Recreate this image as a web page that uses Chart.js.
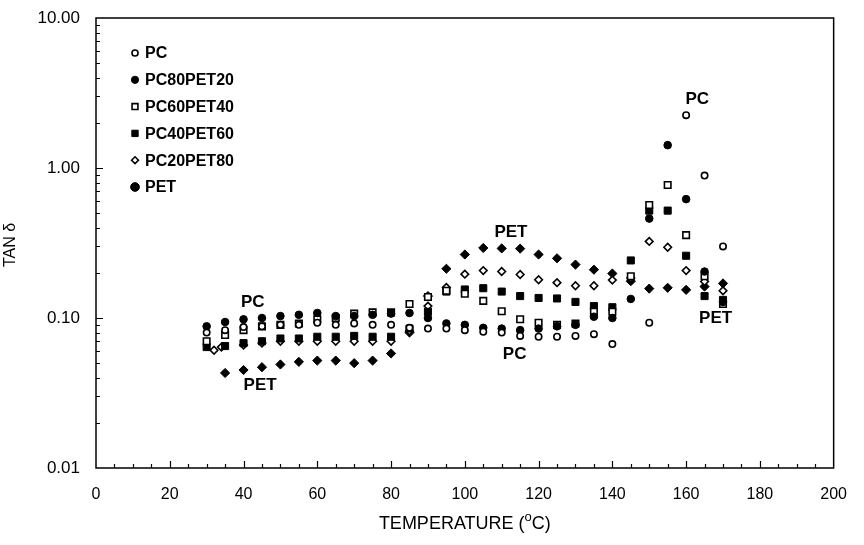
<!DOCTYPE html>
<html>
<head>
<meta charset="utf-8">
<script src="https://cdn.jsdelivr.net/npm/chart.js@4/dist/chart.umd.min.js"></script>
<style>
  html, body { margin: 0; padding: 0; background: #fff; }
  #wrap { width: 864px; height: 545px; position: relative; }
</style>
</head>
<body>
<div id="wrap"><canvas id="c" width="864" height="545"></canvas></div>
<script>
// Temperatures (°C) at which tan δ was measured
const temperature = [30, 35, 40, 45, 50, 55, 60, 65, 70, 75, 80, 85, 90, 95, 100,
                     105, 110, 115, 120, 125, 130, 135, 140, 145, 150, 155, 160, 165, 170];
// the PC20PET80 run started at slightly different temperatures
const temperaturePC20PET80 = [32, 34, 40, 45, 50, 55, 60, 65, 70, 75, 80, 85, 90, 95, 100,
                              105, 110, 115, 120, 125, 130, 135, 140, 145, 150, 155, 160, 165, 170];

// tan δ for each blend (null = no reading)
const tanDeltaPC = [0.080, 0.083, 0.087, 0.088, 0.090, 0.090, 0.093, 0.090, 0.092, 0.090, 0.090, 0.086, 0.085, 0.085, 0.083,
                    0.081, 0.080, 0.076, 0.075, 0.075, 0.076, 0.078, 0.067, null, 0.093, null, 2.25, 0.89, 0.30];
const tanDeltaPC80PET20 = [0.088, 0.094, 0.098, 0.100, 0.103, 0.105, 0.108, 0.103, 0.103, 0.105, 0.107, 0.108, 0.100, 0.092, 0.090,
                           0.086, 0.085, 0.083, 0.085, 0.088, 0.090, 0.102, 0.100, 0.134, 0.46, 1.42, 0.62, 0.204, 0.128];
const tanDeltaPC60PET40 = [0.070, 0.077, 0.083, 0.088, 0.090, 0.092, 0.098, 0.100, 0.107, 0.109, 0.109, 0.124, 0.138, 0.152, 0.145,
                           0.130, 0.111, 0.098, 0.093, 0.090, 0.092, 0.110, 0.110, 0.190, 0.567, 0.77, 0.357, 0.190, 0.124];
const tanDeltaPC40PET60 = [0.064, 0.065, 0.068, 0.070, 0.073, 0.073, 0.075, 0.075, 0.076, 0.075, 0.075, 0.085, 0.110, 0.150, 0.155,
                           0.158, 0.150, 0.140, 0.136, 0.135, 0.128, 0.120, 0.118, 0.242, 0.52, 0.52, 0.26, 0.140, 0.132];
const tanDeltaPC20PET80 = [0.061, 0.064, 0.066, 0.068, 0.070, 0.070, 0.070, 0.070, 0.070, 0.070, 0.070, 0.082, 0.120, 0.160, 0.196,
                           0.207, 0.204, 0.195, 0.180, 0.172, 0.164, 0.164, 0.179, 0.185, 0.324, 0.296, 0.207, 0.175, 0.152];
const tanDeltaPET = [null, 0.043, 0.045, 0.047, 0.049, 0.051, 0.052, 0.052, 0.050, 0.052, 0.058, 0.080, 0.140, 0.213, 0.265,
                     0.293, 0.291, 0.290, 0.265, 0.250, 0.227, 0.210, 0.198, 0.176, 0.157, 0.159, 0.154, 0.162, 0.170];

const seriesNames = ['PC', 'PC80PET20', 'PC60PET40', 'PC40PET60', 'PC20PET80', 'PET'];

// axis tick values
const xTickStep = 20;
const yTickValues = [0.01, 0.1, 1, 10];

// text callouts placed in data coordinates (temperature, tan δ)
const callouts = [
  { text: 'PC',  t: 42.5,  v: 0.128 },
  { text: 'PET', t: 44.5,  v: 0.0355 },
  { text: 'PET', t: 112.5, v: 0.37 },
  { text: 'PC',  t: 113.5, v: 0.0575 },
  { text: 'PC',  t: 163,   v: 2.85 },
  { text: 'PET', t: 168,   v: 0.100 }
];

// marker appearance per series
const markerStyles = [
  { pointStyle: 'circle',  radius: 3.2, fill: '#fff', border: 1.6, legendStyle: 'circle' },
  { pointStyle: 'circle',  radius: 3.8, fill: '#000', border: 1,   legendStyle: 'circle' },
  { pointStyle: 'rect',    radius: 4.6, fill: '#fff', border: 1.6, legendStyle: 'rect' },
  { pointStyle: 'rect',    radius: 5.0, fill: '#000', border: 1,   legendStyle: 'rect' },
  { pointStyle: 'rectRot', radius: 3.8, fill: '#fff', border: 1.6, legendStyle: 'rectRot' },
  { pointStyle: 'rectRot', radius: 4.6, fill: '#000', border: 1,   legendStyle: 'circle' }
];

const FONT = '"Liberation Sans", Arial, Helvetica, sans-serif';

function toPoints(xs, ys) {
  return xs.map((x, i) => ({ x: x, y: ys[i] })).filter(p => p.y !== null);
}

const seriesData = [
  toPoints(temperature, tanDeltaPC),
  toPoints(temperature, tanDeltaPC80PET20),
  toPoints(temperature, tanDeltaPC60PET40),
  toPoints(temperature, tanDeltaPC40PET60),
  toPoints(temperaturePC20PET80, tanDeltaPC20PET80),
  toPoints(temperature, tanDeltaPET)
];

const datasets = seriesNames.map((name, i) => {
  const s = markerStyles[i];
  return {
    label: name,
    data: seriesData[i],
    showLine: false,
    pointStyle: s.pointStyle,
    pointRadius: s.radius,
    pointHoverRadius: s.radius,
    pointBackgroundColor: s.fill,
    pointBorderColor: '#000',
    pointBorderWidth: s.border,
    legendStyle: s.legendStyle
  };
});

// frame, inward tick marks, axis titles
const framePlugin = {
  id: 'frame',
  afterDatasetsDraw(chart) {
    const { ctx, chartArea: a, scales: { x, y } } = chart;
    ctx.save();
    ctx.strokeStyle = '#000';
    ctx.lineWidth = 1.5;
    ctx.strokeRect(a.left, a.top, a.right - a.left, a.bottom - a.top);

    ctx.lineWidth = 1.2;
    ctx.beginPath();
    for (let t = x.min + 5; t < x.max; t += 5) {
      const px = Math.round(x.getPixelForValue(t)) + 0.5;
      const len = (t % xTickStep === 0) ? 7 : 4;
      ctx.moveTo(px, a.bottom);
      ctx.lineTo(px, a.bottom - len);
    }
    for (let d = -2; d <= 0; d++) {
      for (let m = 1; m <= 9; m++) {
        const v = m * Math.pow(10, d);
        if (v <= y.min * 1.0001) continue;
        const py = Math.round(y.getPixelForValue(v)) + 0.5;
        const len = (m === 1) ? 7 : 4;
        ctx.moveTo(a.left, py);
        ctx.lineTo(a.left + len, py);
      }
    }
    ctx.stroke();

    // y axis title
    ctx.fillStyle = '#000';
    ctx.font = '16px ' + FONT;
    ctx.textAlign = 'center';
    ctx.textBaseline = 'middle';
    ctx.save();
    ctx.translate(11, (a.top + a.bottom) / 2 + 2);
    ctx.rotate(-Math.PI / 2);
    ctx.fillText('TAN δ', 0, 0);
    ctx.restore();

    // x axis title with superscript degree "o"
    const big = '18px ' + FONT, small = '13px ' + FONT;
    const p1 = 'TEMPERATURE (', p2 = 'o', p3 = 'C)';
    ctx.font = big; const w1 = ctx.measureText(p1).width, w3 = ctx.measureText(p3).width;
    ctx.font = small; const w2 = ctx.measureText(p2).width;
    let cx = (a.left + a.right) / 2 - (w1 + w2 + w3) / 2;
    const ty = 524;
    ctx.textAlign = 'left';
    ctx.font = big; ctx.fillText(p1, cx, ty); cx += w1;
    ctx.font = small; ctx.fillText(p2, cx, ty - 7); cx += w2;
    ctx.font = big; ctx.fillText(p3, cx, ty);
    ctx.restore();
  }
};

// legend listing series in the upper-left of the plot
const legendPlugin = {
  id: 'sideLegend',
  afterDatasetsDraw(chart) {
    const { ctx } = chart;
    ctx.save();
    ctx.font = 'bold 16px ' + FONT;
    ctx.textBaseline = 'middle';
    ctx.textAlign = 'left';
    chart.data.datasets.forEach((ds, i) => {
      const yy = 53 + i * 26.8;
      ctx.fillStyle = ds.pointBackgroundColor;
      ctx.strokeStyle = '#000';
      ctx.lineWidth = ds.pointBorderWidth;
      Chart.helpers.drawPoint(ctx, {
        pointStyle: ds.legendStyle,
        radius: ds.legendStyle === 'circle' ? ds.pointRadius * 0.95 : ds.pointRadius * 0.9,
        borderWidth: ds.pointBorderWidth,
        rotation: 0
      }, 135, yy);
      ctx.fillStyle = '#000';
      ctx.fillText(ds.label, 145, yy + 1);
    });
    ctx.restore();
  }
};

// text callouts
const calloutPlugin = {
  id: 'callouts',
  afterDatasetsDraw(chart) {
    const { ctx, scales: { x, y } } = chart;
    ctx.save();
    ctx.font = 'bold 17px ' + FONT;
    ctx.fillStyle = '#000';
    ctx.textAlign = 'center';
    ctx.textBaseline = 'middle';
    callouts.forEach(c => ctx.fillText(c.text, x.getPixelForValue(c.t), y.getPixelForValue(c.v)));
    ctx.restore();
  }
};

new Chart(document.getElementById('c'), {
  type: 'scatter',
  data: { datasets },
  options: {
    responsive: false,
    animation: false,
    devicePixelRatio: 1,
    layout: { padding: { top: 18, right: 26, left: 0, bottom: 0 } },
    plugins: { legend: { display: false }, tooltip: { enabled: false } },
    scales: {
      x: {
        type: 'linear',
        min: 0, max: 200,
        grid: { display: false, drawTicks: false },
        border: { display: false },
        ticks: { stepSize: xTickStep, color: '#000', padding: 17, font: { family: FONT, size: 16 } },
        afterFit(s) { s.height = 77; }
      },
      y: {
        type: 'logarithmic',
        min: 0.01, max: 10,
        grid: { display: false, drawTicks: false },
        border: { display: false },
        afterBuildTicks(s) { s.ticks = yTickValues.map(v => ({ value: v, major: true })); },
        ticks: {
          color: '#000', padding: 16, font: { family: FONT, size: 17 },
          callback: v => Number(v).toFixed(2)
        },
        afterFit(s) { s.width = 96; s.paddingTop = 0; s.paddingBottom = 0; }
      }
    }
  },
  plugins: [framePlugin, legendPlugin, calloutPlugin]
});
</script>
</body>
</html>
